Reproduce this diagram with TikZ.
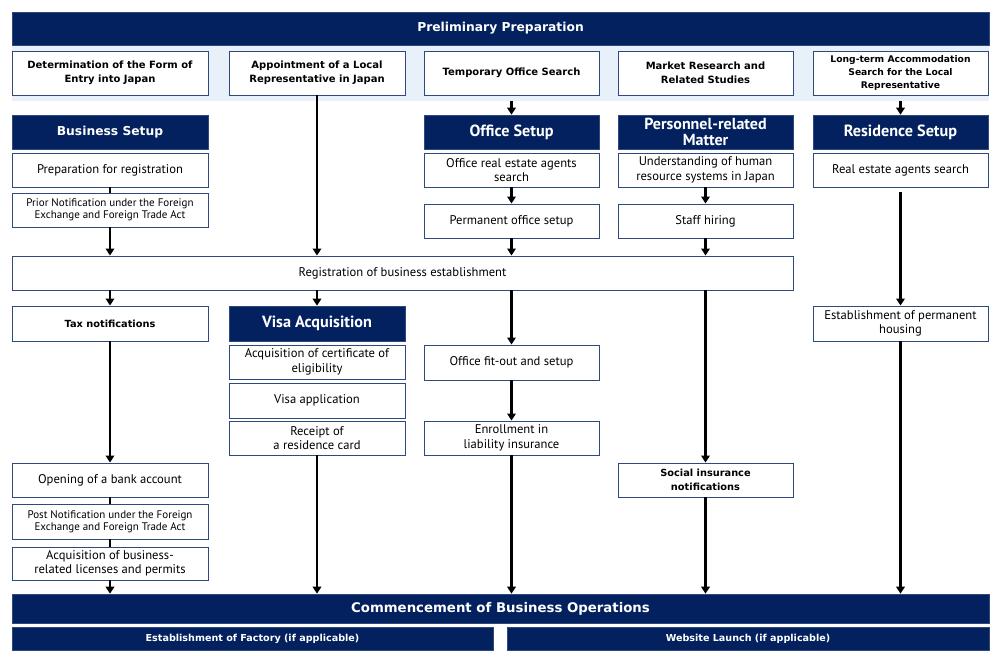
\documentclass[tikz,border=0pt]{standalone}
\usepackage{fontspec}
\setmainfont{PT Sans}
\newfontfamily\vfont{DejaVu Sans}
\usetikzlibrary{arrows.meta}
\definecolor{navy}{HTML}{03215E}
\definecolor{bord}{HTML}{2E4A7D}
\definecolor{bandc}{HTML}{E8F0FA}
\tikzset{
 r/.style args={#1/#2/#3/#4}{minimum width={#3-#1}, minimum height={#4-#2}, at={({(#1+#3)/2},{-(#2+#4)/2})}},
 box/.style={draw=bord, line width=0.9pt, fill=white, inner sep=0pt, align=center, text=black, font=\fontsize{12.6}{14.5}\selectfont},
 sbox/.style={box, font=\fontsize{11}{12.5}\selectfont},
 vbox/.style={box, font=\vfont\bfseries\fontsize{9.8}{13.5}\selectfont},
 tbox/.style={box, font=\vfont\bfseries\fontsize{10}{14}\selectfont},
 head/.style={fill=navy, draw=bord, line width=0.6pt, text=white, inner sep=0pt, align=center, font=\bfseries\fontsize{16.2}{16}\selectfont},
 vhead/.style={head, font=\vfont\bfseries\fontsize{12.3}{16}\selectfont},
 fhead/.style={head, font=\vfont\bfseries\fontsize{9.6}{10}\selectfont},
 arr/.style={line width=2.4pt, -{Triangle[width=8.5pt,length=7pt]}},
 lnk/.style={line width=2.4pt},
}
\begin{document}
\begin{tikzpicture}[x=1pt,y=1pt]
\useasboundingbox (0,0) rectangle (1000,-658);
% band and top
\node[fill=bandc, inner sep=0pt, r=12/45/989/101] (bandn) {};
\node[vhead, r=12/12/989/45] (prelim) {Preliminary Preparation};
\node[tbox, r=12/51/208/95] (t1) {Determination of the Form of\\Entry into Japan};
\node[tbox, r=229/51/405/95] (t2) {Appointment of a Local\\Representative in Japan};
\node[tbox, r=424/51/599/95] (t3) {Temporary Office Search};
\node[tbox, r=618/51/793/95] (t4) {Market Research and\\Related Studies};
\node[tbox, font=\vfont\bfseries\fontsize{9.2}{13}\selectfont, r=813/51/988/95] (t5) {Long-term Accommodation\\Search for the Local\\Representative};
% headers
\node[vhead, r=12/115/208/149] (hb) {Business Setup};
\node[head, r=424/115/599/149] (ho) {Office Setup};
\node[head, font=\bfseries\fontsize{16}{16}\selectfont, r=618/115/793/149] (hp) {Personnel-related\\Matter};
\node[head, r=813/115/988/149] (hr) {Residence Setup};
% first rows
\node[box, r=12/153/208/187] (prep) {Preparation for registration};
\node[sbox, r=12/193/208/227] (prior) {Prior Notification under the Foreign\\Exchange and Foreign Trade Act};
\node[box, r=424/153/599/187] (ores) {Office real estate agents\\search};
\node[box, r=424/204/599/238] (pos) {Permanent office setup};
\node[box, r=618/153/793/187] (und) {Understanding of human\\resource systems in Japan};
\node[box, r=618/204/793/238] (staff) {Staff hiring};
\node[box, r=813/153/988/187] (res) {Real estate agents search};
\node[box, r=12/256/793/290] (reg) {Registration of business establishment};
% second rows
\node[vbox, r=12/306/208/341] (tax) {Tax notifications};
\node[head, r=229/306/405/341] (hv) {Visa Acquisition};
\node[box, r=229/345/405/379] (cert) {Acquisition of certificate of\\eligibility};
\node[box, r=229/383/405/418] (vapp) {Visa application};
\node[box, r=229/421/405/455] (rcpt) {Receipt of\\a residence card};
\node[box, r=424/345/599/380] (fit) {Office fit-out and setup};
\node[box, r=424/421/599/455] (enr) {Enrollment in\\liability insurance};
\node[vbox, r=618/463/793/497] (soc) {Social insurance\\notifications};
\node[box, r=813/306/988/341] (house) {Establishment of permanent\\housing};
\node[box, r=12/463/208/497] (bank) {Opening of a bank account};
\node[sbox, r=12/504/208/539] (post) {Post Notification under the Foreign\\Exchange and Foreign Trade Act};
\node[box, r=12/547/208/580] (lic) {Acquisition of business-\\related licenses and permits};
% bottom
\node[vhead, font=\vfont\bfseries\fontsize{13.3}{16}\selectfont, r=12/594/989/623] (comm) {Commencement of Business Operations};
\node[fhead, r=12/627/493/650] (fac) {Establishment of Factory (if applicable)};
\node[fhead, r=507/627/989/650] (web) {Website Launch (if applicable)};
% connectors
\draw[arr] (t2.south) -- (t2.south |- reg.north);
\draw[arr] (t3.south |- bandn.south) -- (ho.north);
\draw[arr] (t5.south |- bandn.south) -- (hr.north);
\draw[lnk] (prep.south) -- (prior.north);
\draw[arr] (prior.south) -- (prior.south |- reg.north);
\draw[arr] (ores.south) -- (pos.north);
\draw[arr] (und.south) -- (staff.north);
\draw[arr] (pos.south) -- (pos.south |- reg.north);
\draw[arr] (staff.south) -- (staff.south |- reg.north);
\draw[arr, shorten <=5pt] (res.south) -- (house.north);
\draw[arr] (tax.north |- reg.south) -- (tax.north);
\draw[arr] (hv.north |- reg.south) -- (hv.north);
\draw[arr] (fit.north |- reg.south) -- (fit.north);
\draw[arr] (soc.north |- reg.south) -- (soc.north);
\draw[arr] (tax.south) -- (bank.north);
\draw[lnk] (bank.south) -- (post.north);
\draw[lnk] (post.south) -- (lic.north);
\draw[arr] (lic.south) -- (lic.south |- comm.north);
\draw[arr] (rcpt.south) -- (rcpt.south |- comm.north);
\draw[arr] (fit.south) -- (enr.north);
\draw[arr] (enr.south) -- (enr.south |- comm.north);
\draw[arr] (soc.south) -- (soc.south |- comm.north);
\draw[arr] (house.south) -- (house.south |- comm.north);
\end{tikzpicture}
\end{document}
